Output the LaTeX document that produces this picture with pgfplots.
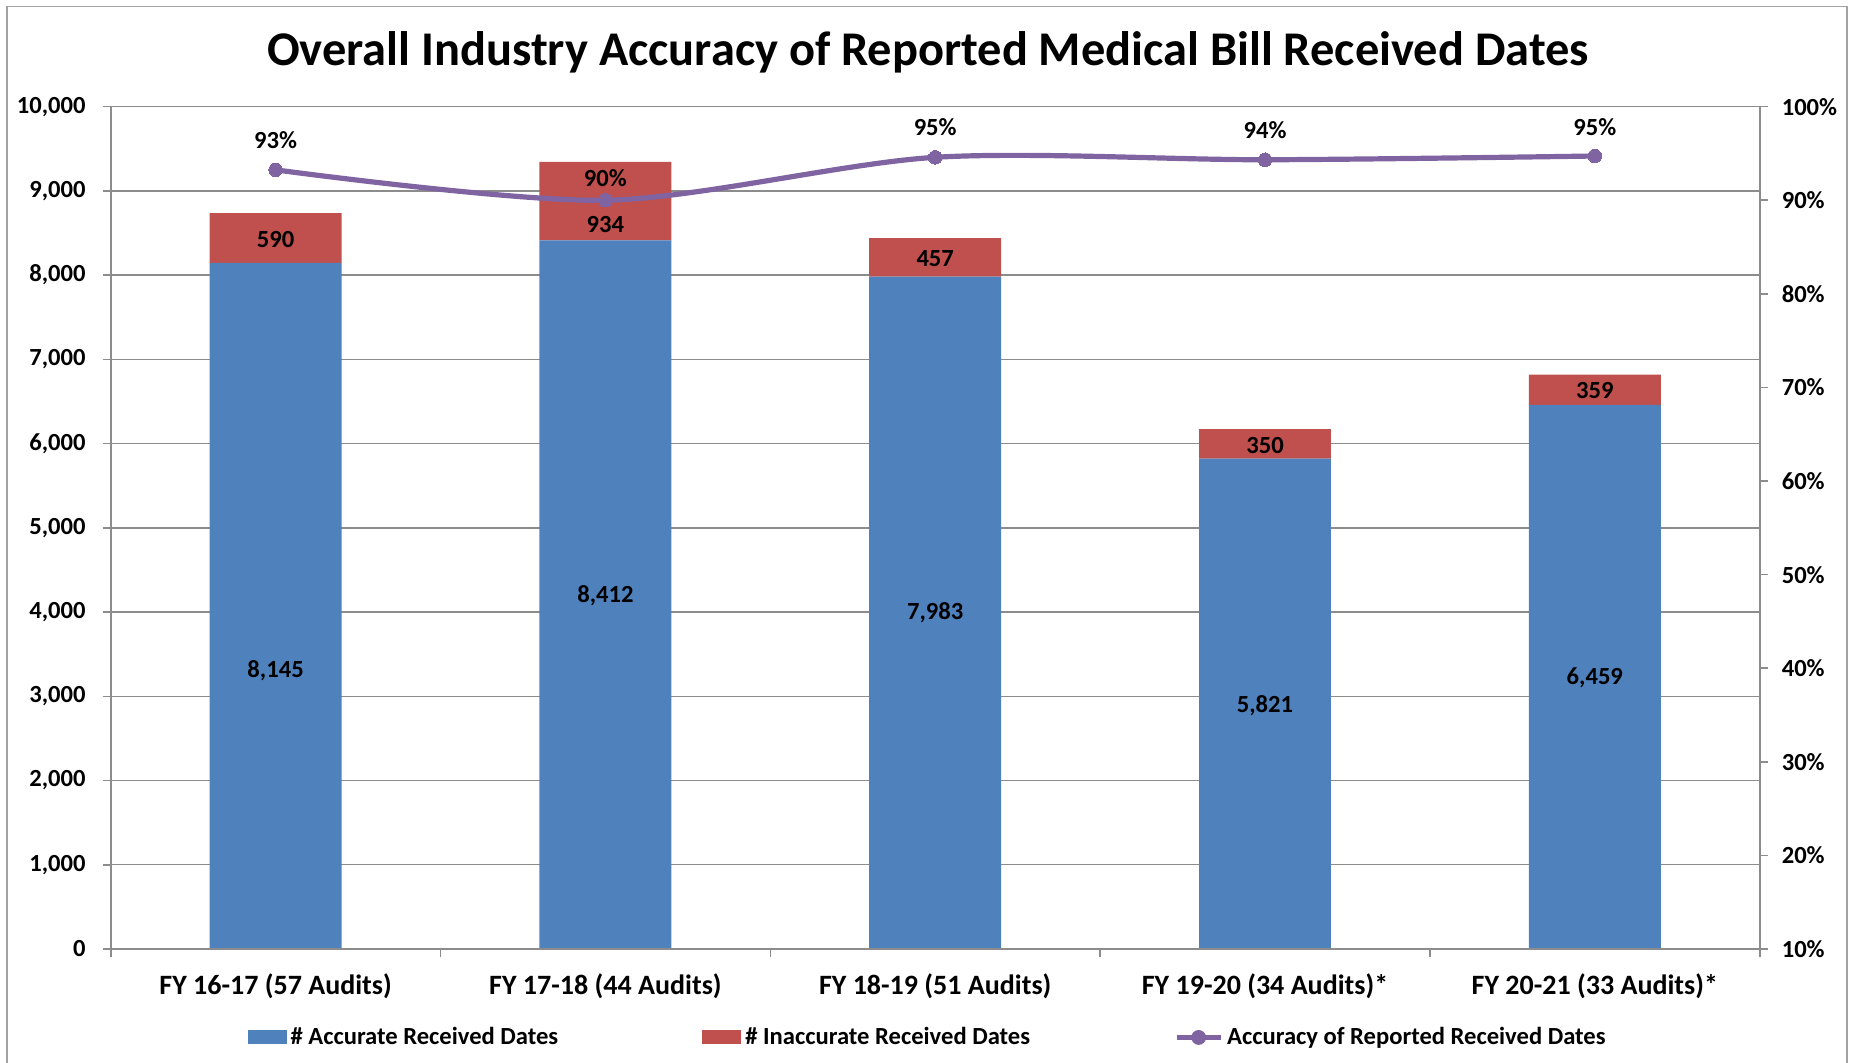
\documentclass[border=0pt]{standalone}
\usepackage{pgfplots}
\pgfplotsset{compat=1.18}
\usepackage{pgfplotstable}
\usepackage{fontspec}
\setmainfont{Carlito}
\definecolor{accblue}{HTML}{4F81BD}
\definecolor{inred}{HTML}{C0504D}
\definecolor{linepurple}{HTML}{8064A2}
\definecolor{gridgray}{HTML}{8C8C8C}

\pgfplotstableread{
x acc inacc pct
0 8145 590 93.25
1 8412 934 90.00
2 7983 457 94.59
3 5821 350 94.33
4 6459 359 94.73
}\datatable

\pgfplotstableread{
x y lab
0 3300 {8,145}
1 4199 {8,412}
2 3989 {7,983}
3 2893 {5,821}
4 3216 {6,459}
0 8427 {590}
1 8596 {934}
2 8202 {457}
3 5983 {350}
4 6629 {359}
0 9607 {93\%}
1 9157 {90\%}
2 9761 {95\%}
3 9719 {94\%}
4 9761 {95\%}
}\labeltable

\pgfplotsset{
  common/.style={
    scale only axis,
    width=824.5pt, height=421.15pt,
    at={(55.35pt,57pt)}, anchor=south west,
    xmin=-0.5, xmax=4.5,
    axis line style={gridgray, line width=0.8pt},
    tick style={gridgray, line width=0.8pt},
    tick align=outside,
    major tick length=4pt,
    /pgf/number format/assume math mode=true,
    tick label style={font=\bfseries\fontsize{12.3}{12.3}\selectfont, text=black},
  }
}

\begin{document}
\begin{tikzpicture}
\path[use as bounding box] (0,0) rectangle (927.5pt,531.5pt);
\draw[gridgray!80, line width=0.8pt] (3.5pt,-2pt) -- (3.5pt,528.15pt) -- (923.5pt,528.15pt) -- (923.5pt,-2pt);

% primary axis: stacked bars
\begin{axis}[common,
  ybar stacked, bar width=0.4,
  ymin=0, ymax=10000,
  ytick={0,1000,...,10000},
  scaled y ticks=false,
  yticklabel style={/pgf/number format/1000 sep={,}, xshift=-5pt},
  axis y line*=left, axis x line*=bottom,
  ymajorgrids, grid style={gridgray, line width=0.7pt},
  xtick={0,1,2,3,4},
  xticklabels={FY 16-17 (57 Audits), FY 17-18 (44 Audits), FY 18-19 (51 Audits), FY 19-20 (34 Audits)*, FY 20-21 (33 Audits)*},
  xtick style={draw=none},
  xticklabel style={font=\bfseries\fontsize{14}{14}\selectfont, yshift=-5pt},
  title={Overall Industry Accuracy of Reported Medical Bill Received Dates},
  title style={font=\bfseries\fontsize{24.2}{24.2}\selectfont, at={(0.4956,1)}, anchor=center, yshift=21pt},
  legend columns=3,
  legend style={draw=none, at={(0.496,-0.105)}, anchor=center,
    font=\bfseries\fontsize{12.3}{12.3}\selectfont,
    /tikz/every even column/.append style={column sep=70pt},
    nodes={inner sep=2pt}},
]
\addplot[fill=accblue, draw=none,
  legend image code/.code={\fill[accblue] (0pt,-3.5pt) rectangle (19.5pt,3.5pt);}]
  table[x=x, y=acc]{\datatable};
\addlegendentry{\# Accurate Received Dates}
\addplot[fill=inred, draw=none,
  legend image code/.code={\fill[inred] (0pt,-3.5pt) rectangle (19.5pt,3.5pt);}]
  table[x=x, y=inacc]{\datatable};
\addlegendentry{\# Inaccurate Received Dates}
\addlegendimage{legend image code/.code={\draw[linepurple, line width=2.5pt] (0pt,0pt) -- (22pt,0pt); \fill[linepurple] (11pt,0pt) circle (3.5pt);}}
\addlegendentry{Accuracy of Reported Received Dates}
\end{axis}

% secondary axis: percentage line
\begin{axis}[common,
  ymin=10, ymax=100,
  ytick={10,20,...,100},
  yticklabel={\pgfmathprintnumber{\tick}\%},
  yticklabel style={xshift=3.5pt},
  axis y line*=right, axis x line*=bottom,
  xtick={-0.5,0.5,1.5,2.5,3.5,4.5},
  xticklabels={},
  major tick length=4pt,
]
\addplot[linepurple, line width=2.6pt, smooth, tension=0.5, mark=*, mark size=3.4pt,
  mark options={fill=linepurple, draw=linepurple, line width=0pt}]
  table[x=x, y=pct]{\datatable};
\end{axis}

% overlay axis: data labels
\begin{axis}[common, hide axis, ymin=0, ymax=10000]
\addplot[only marks, mark=none, nodes near coords, point meta=explicit symbolic,
  every node near coord/.append style={anchor=center, font=\bfseries\fontsize{12.3}{12.3}\selectfont, text=black}]
  table[x=x, y=y, meta=lab]{\labeltable};
\end{axis}
\end{tikzpicture}
\end{document}
